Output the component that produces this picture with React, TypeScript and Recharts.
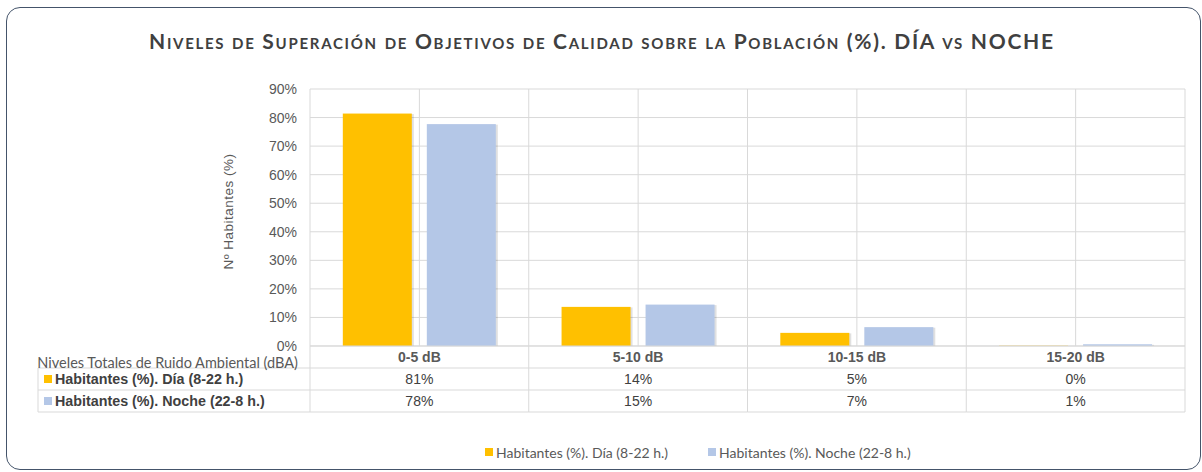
import React from 'react';
import { BarChart, Bar, XAxis, YAxis, CartesianGrid, Legend } from 'recharts';

const categories = ['0-5 dB', '5-10 dB', '10-15 dB', '15-20 dB'];
const diaValues = [81.4, 13.7, 4.6, 0.1];
const nocheValues = [77.7, 14.5, 6.6, 0.6];
const yTicks = [0, 10, 20, 30, 40, 50, 60, 70, 80, 90];

const TITLE = 'Niveles de Superación de Objetivos de Calidad sobre la Población (%). DÍA vs NOCHE';
const DIA_NAME = 'Habitantes (%). Día (8-22 h.)';
const NOCHE_NAME = 'Habitantes (%). Noche (22-8 h.)';
const DIA_COLOR = '#FFC000';
const NOCHE_COLOR = '#B4C7E7';
const GRID = '#d9d9d9';
const ARIAL = '"Liberation Sans", Arial, sans-serif';
const CALIBRI = 'Lato, "Open Sans", sans-serif';

const data = categories.map((c, i) => ({ cat: c, dia: diaValues[i], noche: nocheValues[i] }));

const ShadowBar = (props: any) => {
  const { x, y, width, height, fill } = props;
  if (!height || height <= 0) return null;
  return (
    <g>
      <rect x={x + 1} y={y + 0.5} width={width + 1} height={height - 0.5} fill="rgba(0,0,0,0.12)" />
      <rect x={x} y={y} width={width} height={height} fill={fill} />
    </g>
  );
};

const TABLE_LEFT = 38;
const ROW = 22;

const TableTick = (props: any) => {
  const { x, y, payload, index } = props;
  const half = payload && payload.offset ? payload.offset : 109.4;
  const i = index;
  const l = x - half;
  const r = x + half;
  const dia = Math.round(diaValues[i]) + '%';
  const noche = Math.round(nocheValues[i]) + '%';
  return (
    <g>
      <line x1={l} x2={r} y1={y + ROW} y2={y + ROW} stroke={GRID} />
      <line x1={l} x2={r} y1={y + 2 * ROW} y2={y + 2 * ROW} stroke={GRID} />
      <line x1={l} x2={r} y1={y + 3 * ROW} y2={y + 3 * ROW} stroke={GRID} />
      <line x1={r} x2={r} y1={y} y2={y + 3 * ROW} stroke={GRID} />
      {i === 0 && (
        <g>
          <line x1={l} x2={l} y1={y} y2={y + 3 * ROW} stroke={GRID} />
          <line x1={TABLE_LEFT} x2={l} y1={y + ROW} y2={y + ROW} stroke={GRID} />
          <line x1={TABLE_LEFT} x2={l} y1={y + 2 * ROW} y2={y + 2 * ROW} stroke={GRID} />
          <line x1={TABLE_LEFT} x2={l} y1={y + 3 * ROW} y2={y + 3 * ROW} stroke={GRID} />
          <line x1={TABLE_LEFT} x2={TABLE_LEFT} y1={y + ROW} y2={y + 3 * ROW} stroke={GRID} />
          <text x={l - 12} y={y + 16} textAnchor="end" dominantBaseline="central" fontFamily={CALIBRI} fontSize={14.5} fill="#595959">
            Niveles Totales de Ruido Ambiental (dBA)
          </text>
          <rect x={TABLE_LEFT + 6} y={y + ROW + 7} width={8} height={8} fill={DIA_COLOR} />
          <text x={TABLE_LEFT + 17} y={y + ROW + 11} dominantBaseline="central" fontFamily={ARIAL} fontSize={14.3} fontWeight="bold" fill="#404040">
            {DIA_NAME}
          </text>
          <rect x={TABLE_LEFT + 6} y={y + 2 * ROW + 7} width={8} height={8} fill={NOCHE_COLOR} />
          <text x={TABLE_LEFT + 17} y={y + 2 * ROW + 11} dominantBaseline="central" fontFamily={ARIAL} fontSize={14.3} fontWeight="bold" fill="#404040">
            {NOCHE_NAME}
          </text>
        </g>
      )}
      <text x={x} y={y + 11} textAnchor="middle" dominantBaseline="central" fontFamily={ARIAL} fontSize={14} fontWeight="bold" fill="#595959">
        {payload.value}
      </text>
      <text x={x} y={y + ROW + 11} textAnchor="middle" dominantBaseline="central" fontFamily={ARIAL} fontSize={14} fill="#404040">
        {dia}
      </text>
      <text x={x} y={y + 2 * ROW + 11} textAnchor="middle" dominantBaseline="central" fontFamily={ARIAL} fontSize={14} fill="#404040">
        {noche}
      </text>
    </g>
  );
};

const LegendContent = () => (
  <div style={{ position: 'relative', height: 50, width: 1202 }}>
    <div style={{ position: 'absolute', left: 485, top: 32, height: 16, display: 'flex', alignItems: 'center', fontFamily: CALIBRI, fontSize: 14, color: '#595959', whiteSpace: 'nowrap' }}>
      <span style={{ display: 'inline-block', width: 8, height: 8, background: DIA_COLOR, marginRight: 3 }} />
      <span>{DIA_NAME}</span>
      <span style={{ display: 'inline-block', width: 8, height: 8, background: NOCHE_COLOR, marginLeft: 40, marginRight: 3 }} />
      <span>{NOCHE_NAME}</span>
    </div>
  </div>
);

const YLabel = (props: any) => {
  const vb = props.viewBox || {};
  const cy = (vb.y || 89) + (vb.height || 257) / 2 - 6;
  return (
    <text x={228} y={cy} transform={`rotate(-90, 228, ${cy})`} textAnchor="middle" dominantBaseline="central" fontFamily={ARIAL} fontSize={13.5} letterSpacing={0.5} fill="#595959">
      Nº  Habitantes (%)
    </text>
  );
};

export default function App() {
  return (
    <div style={{ position: 'absolute', left: 0, top: 0, width: 1202, height: 472, background: '#fff' }}>
      <div style={{ position: 'absolute', left: 6, top: 7, width: 1195, height: 463, border: '1.5px solid #44546A', borderRadius: 14, boxSizing: 'border-box' }} />
      <svg style={{ position: 'absolute', left: 0, top: 0 }} width={1202} height={80}>
        <text x={601} y={40} textAnchor="middle" dominantBaseline="central" textLength={904} lengthAdjust="spacing" fontFamily={CALIBRI} fontWeight="bold" fontSize={21} fill="#404040" style={{ fontVariant: 'small-caps' }}>
          {TITLE}
        </text>
      </svg>
      <div style={{ position: 'absolute', left: 0, top: 0 }}>
        <BarChart width={1202} height={472} data={data} margin={{ top: 89, right: 17, bottom: 10, left: 0 }} barCategoryGap="15%" barGap={15}>
          <CartesianGrid
            stroke={GRID}
            verticalCoordinatesGenerator={(p: any) => {
              const o = p.offset;
              const pts: number[] = [];
              for (let k = 0; k <= 8; k++) pts.push(o.left + (k * o.width) / 8);
              return pts;
            }}
          />
          <XAxis dataKey="cat" interval={0} height={66} tickSize={0} tickMargin={0} tickLine={false} axisLine={{ stroke: GRID }} tick={<TableTick />} />
          <YAxis width={310} domain={[0, 90]} ticks={yTicks} tickFormatter={(v: number) => v + '%'} tickLine={false} axisLine={false} tickSize={0} tickMargin={13} tick={{ fill: '#595959', fontSize: 14, fontFamily: ARIAL }} label={<YLabel />} />
          <Legend verticalAlign="bottom" content={<LegendContent />} wrapperStyle={{ left: 0, width: 1202, height: 50 }} />
          <Bar dataKey="dia" name={DIA_NAME} fill={DIA_COLOR} isAnimationActive={false} shape={<ShadowBar />} />
          <Bar dataKey="noche" name={NOCHE_NAME} fill={NOCHE_COLOR} isAnimationActive={false} shape={<ShadowBar />} />
        </BarChart>
      </div>
    </div>
  );
}
